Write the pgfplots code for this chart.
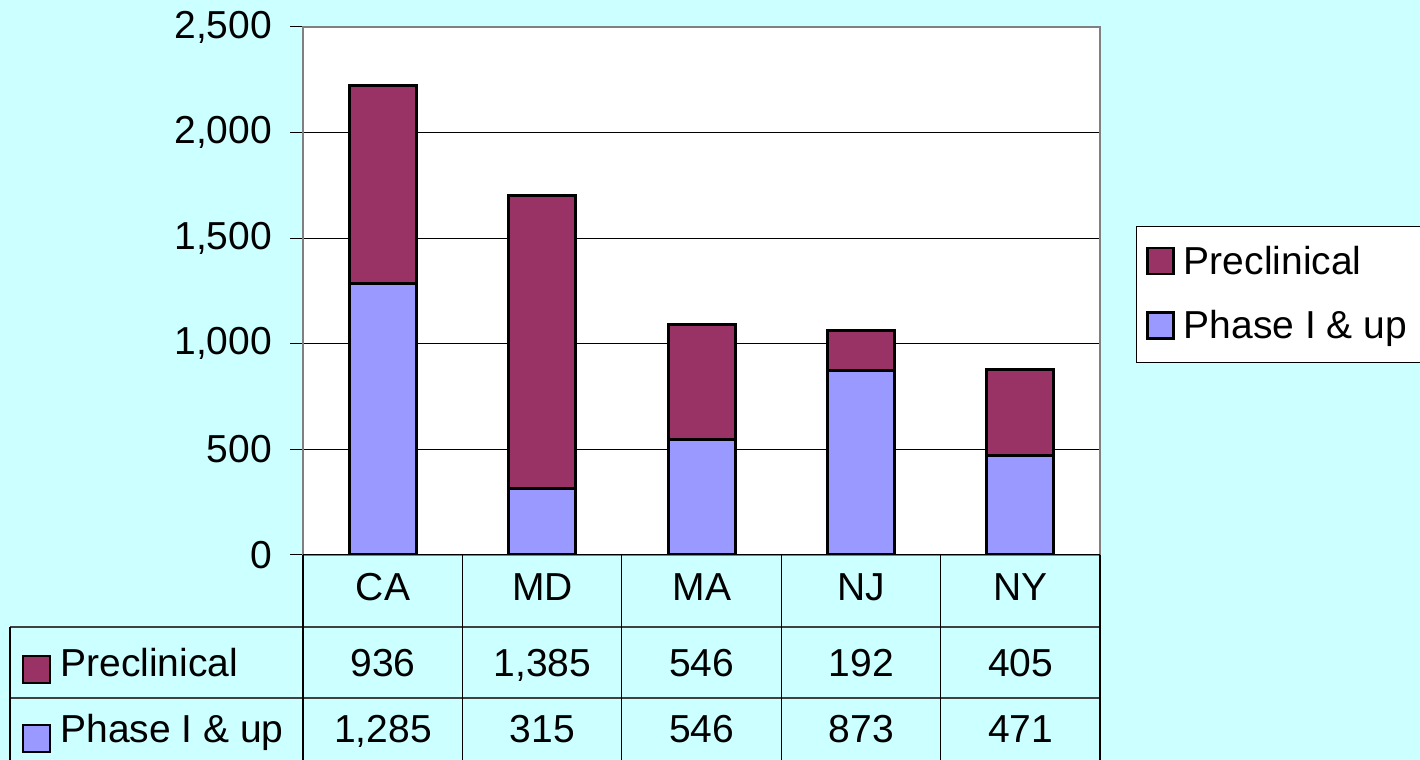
\documentclass[border=0pt]{standalone}
\usepackage{pgfplots}
\pgfplotsset{compat=1.18}
\usepackage{fontspec}
\setmainfont{Liberation Sans}
\definecolor{bg}{HTML}{CCFFFF}
\definecolor{phase}{HTML}{9999FF}
\definecolor{precl}{HTML}{993366}

\begin{document}
\begin{tikzpicture}[x=0.5pt,y=0.5pt,font=\fontsize{19.5}{22}\selectfont]
\fill[bg] (0,0) rectangle (1420,760);
\useasboundingbox (0,0) rectangle (1420,760);
\begin{axis}[
  at={(151.5pt,102.5pt)}, anchor=south west,
  scale only axis, width=398.5pt, height=264pt,
  ybar stacked, bar width=33.5pt,
  xmin=-0.5, xmax=4.5, ymin=0, ymax=2500,
  xtick=\empty, ytick={0,500,...,2500},
  ymajorgrids, grid style={black, line width=0.5pt},
  axis background/.style={fill=white},
  axis line style={gray, line width=1pt},
  tick style={black, line width=0.5pt},
  major tick length=6.5pt, tick align=outside, ytick pos=left,
  yticklabel style={font=\fontsize{19.5}{22}\selectfont, xshift=-5.5pt},
  /pgf/number format/.cd, 1000 sep={,}, assume math mode=true,
  /pgfplots/.cd,
  reverse legend,
  legend style={at={(1.045,0.623)}, anchor=north west, draw=black, fill=white,
    font=\fontsize{19.5}{22}\selectfont, row sep=12.5pt, inner xsep=5pt, inner ysep=8pt,
    legend cell align=left, nodes={inner xsep=4.5pt}},
  legend image code/.code={\draw[#1, line width=1.3pt] (0pt,-6pt) rectangle (13pt,7pt);},
]
\addplot[fill=phase, draw=black, line width=1.5pt] coordinates {(0,1285) (1,315) (2,546) (3,873) (4,471)};
\addplot[fill=precl, draw=black, line width=1.5pt] coordinates {(0,936) (1,1385) (2,546) (3,192) (4,405)};
\legend{Phase I \& up, Preclinical}
\draw[black, line width=0.6pt] (axis cs:-0.5,0) -- (axis cs:4.5,0);
\end{axis}
% data table below the chart
\draw[black!75, line width=0.6pt] (10,133) -- (1100,133) (10,62) -- (1100,62);
\foreach \xx in {303,462.4,621.8,781.2,940.6,1100} \draw[black, line width=0.6pt] (\xx,205) -- (\xx,0);
\draw[black, line width=0.6pt] (10,133) -- (10,0);
\foreach \name [count=\i from 0] in {CA,MD,MA,NJ,NY}
  \node[anchor=base] at (383+159.4*\i,159) {\name};
\foreach \v [count=\i from 0] in {936,{1,385},546,192,405}
  \node[anchor=base] at (383+159.4*\i,83) {\v};
\foreach \v [count=\i from 0] in {{1,285},315,546,873,471}
  \node[anchor=base] at (383+159.4*\i,17) {\v};
\draw[fill=precl, draw=black, line width=1.3pt] (23,77) rectangle (50,104);
\draw[fill=phase, draw=black, line width=1.3pt] (23,8) rectangle (50,35);
\node[anchor=base west, inner sep=0pt] at (60,83) {Preclinical};
\node[anchor=base west, inner sep=0pt] at (60,17) {Phase I \& up};
\end{tikzpicture}
\end{document}
